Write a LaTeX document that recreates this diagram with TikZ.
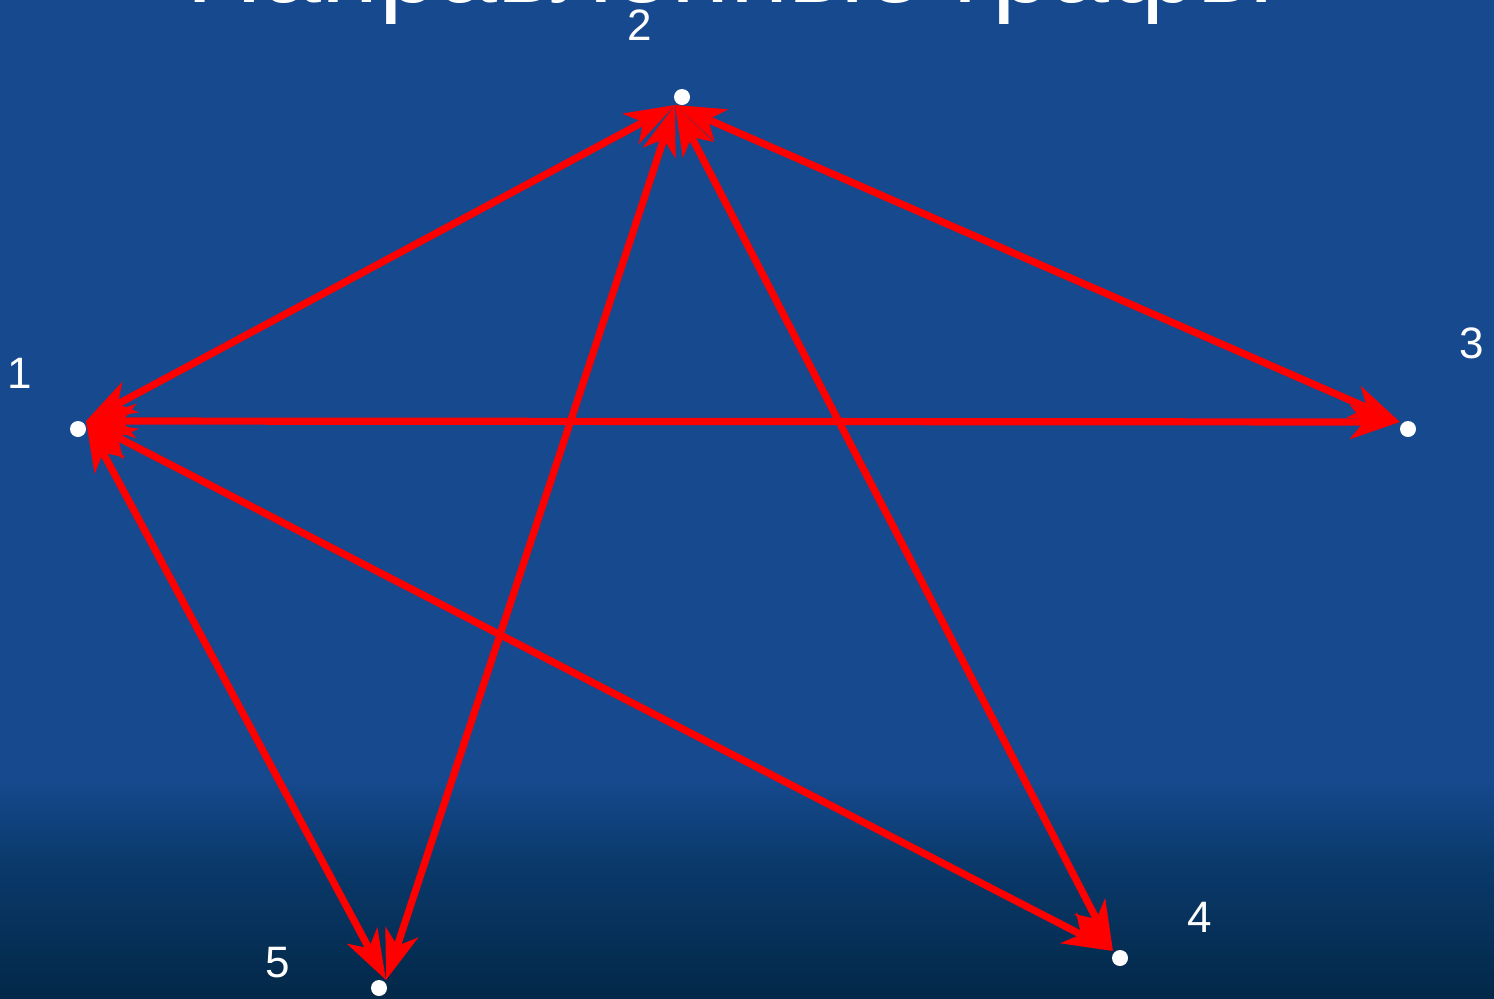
\documentclass[tikz,border=0pt]{standalone}
\usepackage{fontspec}
\setmainfont{Liberation Sans}
\usetikzlibrary{arrows.meta}
\definecolor{slideblue}{RGB}{22,73,142}
\definecolor{slidemid}{RGB}{10,58,108}
\definecolor{slidenavy}{RGB}{3,40,72}
\definecolor{edgered}{RGB}{255,0,0}

\begin{document}
\begin{tikzpicture}[x=0.5pt, y=-0.5pt,
    vdot/.style={circle, fill=white, inner sep=0pt, minimum size=8pt},
    vlabel/.style={text=white, font=\fontsize{22}{26}\selectfont, inner sep=0pt},
    dedge/.style={draw=edgered, line width=3.6pt,
      {Stealth[length=25pt,width=17pt,inset=7pt]}-{Stealth[length=25pt,width=17pt,inset=7pt]}}
  ]
  \useasboundingbox (0,0) rectangle (1494,998);
  \clip (0,0) rectangle (1494,998);

  % background
  \fill[slideblue] (0,0) rectangle (1494,998);
  \shade[top color=slideblue, bottom color=slidemid] (0,780) rectangle (1494,860);
  \shade[top color=slidemid, bottom color=slidenavy] (0,860) rectangle (1494,998);

  % title, cut off at the top
  \node[text=white, font=\fontsize{53}{64}\selectfont, anchor=base, inner sep=0pt] (title) at (730,2) {Направленные графы};

  % vertices
  \node[vdot] (d1) at (78,429) {};
  \node[vdot] (d2) at (682,97) {};
  \node[vdot] (d3) at (1408,429) {};
  \node[vdot] (d4) at (1120,958) {};
  \node[vdot] (d5) at (379,988) {};

  % where the arrow tips meet
  \coordinate (p1) at (86,421);
  \coordinate (p2) at (675,105);
  \coordinate (p3) at (1400,422);
  \coordinate (p4) at (1113,951);
  \coordinate (p5) at (386,980);

  \node[vlabel] (l1) at (20,373) {1};
  \node[vlabel] (l2) at (640,25) {2};
  \node[vlabel] (l3) at (1472,343) {3};
  \node[vlabel] (l4) at (1200,917) {4};
  \node[vlabel] (l5) at (278,963) {5};

  % edges
  \draw[dedge] (p1) -- (p2);
  \draw[dedge] (p1) -- (p3);
  \draw[dedge] (p2) -- (p3);
  \draw[dedge] (p2) -- (p5);
  \draw[dedge] (p2) -- (p4);
  \draw[dedge] (p1) -- (p4);
  \draw[dedge] (p1) -- (p5);
\end{tikzpicture}
\end{document}
